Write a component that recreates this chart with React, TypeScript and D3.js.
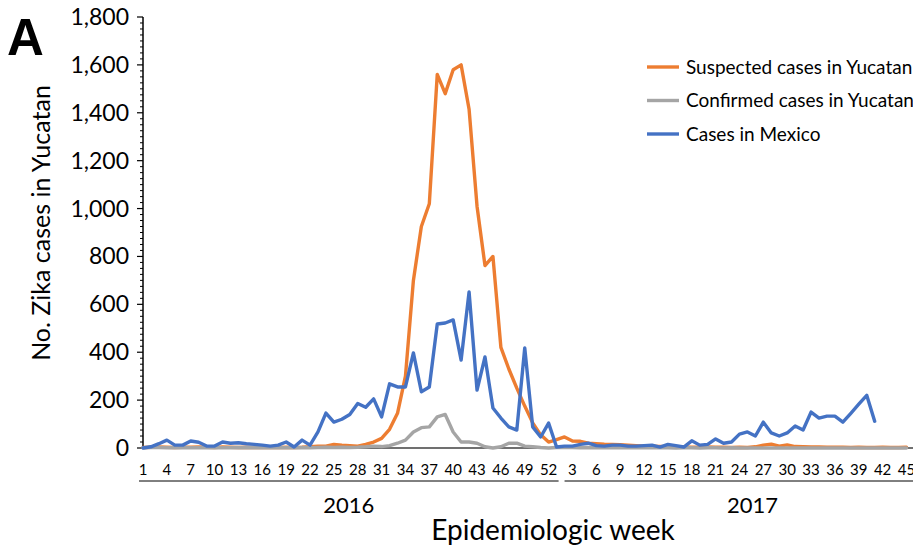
import React from "react";
import * as d3 from "d3";

const weeks2016: number[] = d3.range(1, 53);
const weeks2017: number[] = d3.range(1, 48);

const suspected2016 = [2,3,4,3,2,3,3,4,3,2, 4,3,2,3,2,2,3,2,3,2, 3,5,8,8,15,12,10,8,15,25, 40,78,145,300,700,925,1020,1560,1480,1580, 1600,1415,1010,762,800,420,330,250,175,105, 55,25];
const suspected2017 = [35,46,29,28,20,18,16,15,14,12, 10,8,7,6,5,4,4,3,3,4, 3,3,2,3,2,5,12,16,8,13, 6,5,4,4,3,3,3,2,3,2, 2,3,2,2,3];

const confirmed2016 = [1,2,2,1,1,2,1,1,2,1, 1,1,2,1,1,1,2,1,1,1, 2,1,2,3,2,3,2,3,5,8, 6,10,20,33,67,85,88,130,140,67, 25,25,20,5,0,5,20,20,8,5, 2,0];
const confirmed2017 = [2,3,2,1,2,1,1,2,1,1, 1,1,1,1,1,0,1,1,0,1, 1,0,1,0,0,0,0,0,0,0, 0,0,0,0,0,0,0,0,0,0, 0,0,0,0,0];

const mexico2016 = [0,5,18,33,12,12,29,24,8,8, 25,20,22,18,15,12,8,12,25,4, 33,12,67,146,108,120,140,186,170,205, 130,268,255,255,397,235,255,518,522,535, 367,652,242,380,167,125,88,75,418,88, 46,104];
const mexico2017 = [4,8,8,15,20,10,8,12,12,8, 8,10,12,4,15,10,4,30,12,15, 38,20,25,58,67,50,108,63,50,63, 92,75,150,125,133,133,108,145,183,220, 112];

const yTicks = [0, 200, 400, 600, 800, 1000, 1200, 1400, 1600, 1800];
const years = ["2016", "2017"];

const seriesList = [
  { name: "Suspected cases in Yucatan", color: "#ED7D31", values: [...suspected2016, ...suspected2017] },
  { name: "Confirmed cases in Yucatan", color: "#A5A5A5", values: [...confirmed2016, ...confirmed2017] },
  { name: "Cases in Mexico", color: "#4472C4", values: [...mexico2016, ...mexico2017] },
];

const W = 913, H = 547;
const FONT = "Lato, 'Open Sans', sans-serif";

export default function App() {
  const categories = [...weeks2016.map((w) => ({ y: 0, w })), ...weeks2017.map((w) => ({ y: 1, w }))];
  const n = categories.length;
  const x = d3.scaleLinear().domain([0, n - 1]).range([143, 143 + (n - 1) * 7.953]);
  const y = d3.scaleLinear().domain([0, 1800]).range([448, 17]);
  const line = d3.line<number>().x((_, i) => x(i)).y((d) => y(d));
  const minor = d3.range(0, 1801, 25).filter((v) => v % 200 !== 0);
  const x0 = x(0);

  const n16 = weeks2016.length;
  const groups = [
    { label: years[0], a: x(0) - 4, b: x(n16 - 1) + 10 },
    { label: years[1], a: x(n16) + 8, b: x(n - 1) + 18 },
  ];

  return (
    <svg width={W} height={H} style={{ position: "absolute", left: 0, top: 0, background: "#fff" }} fontFamily={FONT}>
      <rect width={W} height={H} fill="#fff" />
      {/* panel letter */}
      <text x={7} y={55} fontFamily="'Liberation Sans', Arial, sans-serif" fontWeight="bold" fontSize={51}>A</text>

      {/* y axis */}
      <line x1={x0} x2={x0} y1={y(1800)} y2={y(0)} stroke="#000" strokeWidth={1.5} />
      {minor.map((v) => (
        <line key={"m" + v} x1={x0 - 3} x2={x0} y1={y(v)} y2={y(v)} stroke="#000" strokeWidth={1} />
      ))}
      {yTicks.map((v) => (
        <g key={v}>
          <line x1={x0 - 6} x2={x0} y1={y(v)} y2={y(v)} stroke="#000" strokeWidth={1.2} />
          <text x={x0 - 14} y={y(v)} dy="0.35em" textAnchor="end" fontSize={23} fill="#000">
            {d3.format(",")(v)}
          </text>
        </g>
      ))}
      <text transform={`translate(50,223) rotate(-90)`} textAnchor="middle" fontSize={25} fill="#000">
        No. Zika cases in Yucatan
      </text>

      {/* x axis */}
      <line x1={x0} x2={W} y1={y(0)} y2={y(0)} stroke="#404040" strokeWidth={1.5} />
      {categories.map((c, i) =>
        i % 3 === 0 ? (
          <text key={"t" + i} x={x(i)} y={475} textAnchor="middle" fontSize={15} fill="#000">
            {c.w}
          </text>
        ) : null
      )}
      {groups.map((g) => (
        <g key={g.label}>
          <line x1={g.a} x2={g.b} y1={481} y2={481} stroke="#000" strokeWidth={1} />
          <text x={(g.a + g.b) / 2} y={513} textAnchor="middle" fontSize={22} fill="#000">{g.label}</text>
        </g>
      ))}
      <text x={553} y={540} textAnchor="middle" fontSize={28} fill="#000">Epidemiologic week</text>

      {/* series */}
      {seriesList.map((s) => (
        <path key={s.name} d={line(s.values) || ""} fill="none" stroke={s.color} strokeWidth={3.4} strokeLinejoin="round" strokeLinecap="round" />
      ))}

      {/* legend */}
      {seriesList.map((s, i) => (
        <g key={"l" + s.name} transform={`translate(0,${67 + i * 33.5})`}>
          <line x1={647} x2={679} y1={0} y2={0} stroke={s.color} strokeWidth={3.4} />
          <text x={686} y={0} dy="0.35em" fontSize={19} fill="#000">{s.name}</text>
        </g>
      ))}
    </svg>
  );
}
